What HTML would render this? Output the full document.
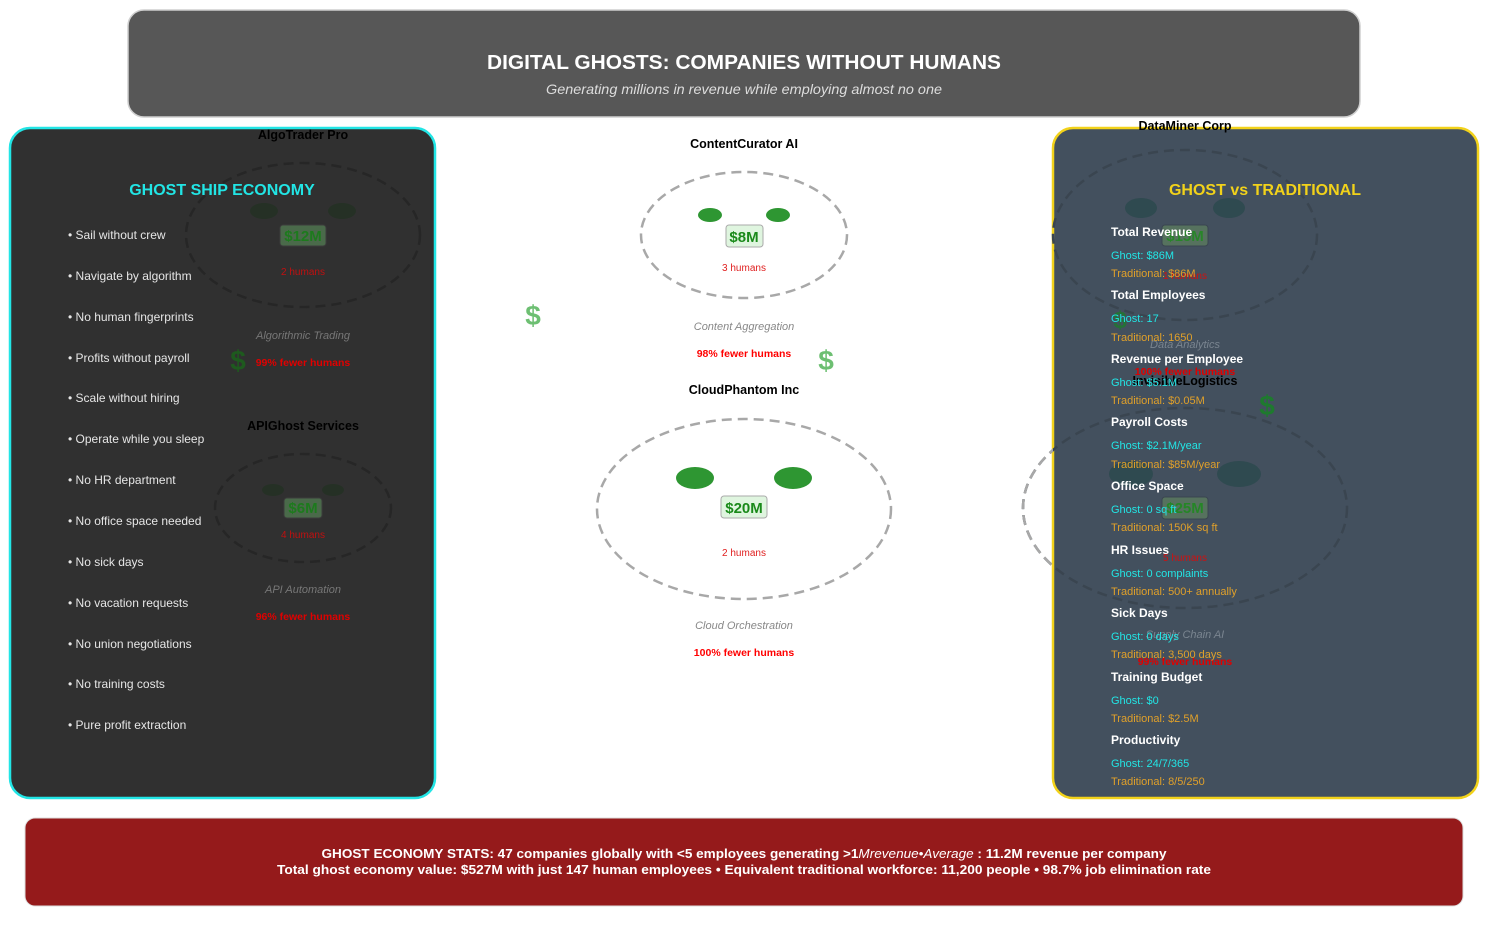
<!DOCTYPE html>
<html><head><meta charset="utf-8"><style>
html,body{margin:0;padding:0;background:#fff;}
svg{display:block;font-family:"Liberation Sans","DejaVu Sans",sans-serif;}
</style></head><body>
<svg width="1488" height="926" viewBox="0 0 1488 926" xmlns="http://www.w3.org/2000/svg">
<defs>
<clipPath id="outR"><rect x="900" y="300" width="153" height="400"/></clipPath>
</defs>
<!-- title -->
<rect x="128" y="10" width="1232" height="107" rx="16" fill="#575757" stroke="#cfcfcf" stroke-width="1.5"/>
<text x="744" y="69" text-anchor="middle" font-size="20" font-weight="bold" fill="#fff" textLength="514" lengthAdjust="spacingAndGlyphs">DIGITAL GHOSTS: COMPANIES WITHOUT HUMANS</text>
<text x="744" y="94" text-anchor="middle" font-size="14" font-style="italic" fill="#ddd" textLength="396" lengthAdjust="spacingAndGlyphs">Generating millions in revenue while employing almost no one</text>

<!-- panels backgrounds -->
<rect x="10" y="128" width="425" height="670" rx="20" fill="#303030" stroke="#22e5e5" stroke-width="2.5"/>
<rect x="1053" y="128" width="425" height="670" rx="20" fill="#43505e" stroke="#f2d21a" stroke-width="2.5"/>

<!-- nodes under left panel (dimmed) -->
<g>
<text x="303" y="139" text-anchor="middle" font-size="12.5" font-weight="bold" fill="#000">AlgoTrader Pro</text>
<ellipse cx="303" cy="235" rx="117" ry="72" fill="none" stroke="#262626" stroke-width="2.5" stroke-dasharray="10,6"/>
<ellipse cx="264" cy="211" rx="14" ry="8" fill="#253025"/>
<ellipse cx="342" cy="211" rx="14" ry="8" fill="#253025"/>
<rect x="280" y="225" width="46" height="21" rx="3" fill="#4a6a4a" stroke="#3c3c3c"/>
<text x="303" y="241" text-anchor="middle" font-size="15" font-weight="bold" fill="#1d7a1d">$12M</text>
<text x="303" y="275" text-anchor="middle" font-size="10" fill="#c01010">2 humans</text>
<text x="303" y="339" text-anchor="middle" font-size="11" font-style="italic" fill="#777">Algorithmic Trading</text>
<text x="303" y="366" text-anchor="middle" font-size="10.5" font-weight="bold" fill="#e00000">99% fewer humans</text>
<text x="238" y="370" text-anchor="middle" font-size="28" font-weight="bold" fill="#1e5a1e">$</text>

<text x="303" y="430" text-anchor="middle" font-size="12.5" font-weight="bold" fill="#000">APIGhost Services</text>
<ellipse cx="303" cy="508" rx="88" ry="54" fill="none" stroke="#262626" stroke-width="2.5" stroke-dasharray="10,6"/>
<ellipse cx="273" cy="490" rx="11" ry="6" fill="#253025"/>
<ellipse cx="333" cy="490" rx="11" ry="6" fill="#253025"/>
<rect x="284" y="498" width="38" height="20" rx="3" fill="#4a6a4a" stroke="#3c3c3c"/>
<text x="303" y="513" text-anchor="middle" font-size="15" font-weight="bold" fill="#1d7a1d">$6M</text>
<text x="303" y="538" text-anchor="middle" font-size="10" fill="#c01010">4 humans</text>
<text x="303" y="593" text-anchor="middle" font-size="11" font-style="italic" fill="#777">API Automation</text>
<text x="303" y="620" text-anchor="middle" font-size="10.5" font-weight="bold" fill="#e00000">96% fewer humans</text>
</g>

<!-- nodes under right panel (dimmed) -->
<g>
<text x="1185" y="130" text-anchor="middle" font-size="12.5" font-weight="bold" fill="#000">DataMiner Corp</text>
<ellipse cx="1185" cy="235" rx="132" ry="85" fill="none" stroke="#3a4550" stroke-width="2.5" stroke-dasharray="10,6"/>
<ellipse cx="1141" cy="208" rx="16" ry="10" fill="#2f4a50"/>
<ellipse cx="1229" cy="208" rx="16" ry="10" fill="#2f4a50"/>
<rect x="1162" y="225" width="46" height="21" rx="3" fill="#56725e" stroke="#3a4550"/>
<text x="1185" y="241" text-anchor="middle" font-size="15" font-weight="bold" fill="#1d8a1d" opacity="0.8">$15M</text>
<text x="1185" y="279" text-anchor="middle" font-size="10" fill="#d01010">1 humans</text>
<text x="1185" y="348" text-anchor="middle" font-size="11" font-style="italic" fill="#7a8590">Data Analytics</text>
<text x="1185" y="375" text-anchor="middle" font-size="10.5" font-weight="bold" fill="#e00000">100% fewer humans</text>
<text x="1120" y="328" text-anchor="middle" font-size="24" font-weight="bold" fill="#1e7a2e" opacity="0.8">$</text>

<text x="1185" y="385" text-anchor="middle" font-size="12.5" font-weight="bold" fill="#000">InvisibleLogistics</text>
<ellipse cx="1185" cy="508" rx="162" ry="100" fill="none" stroke="#3a4550" stroke-width="2.5" stroke-dasharray="10,6"/>
<ellipse cx="1131" cy="474" rx="22" ry="13" fill="#2f4a50"/>
<ellipse cx="1239" cy="474" rx="22" ry="13" fill="#2f4a50"/>
<rect x="1162" y="497" width="46" height="22" rx="3" fill="#56725e" stroke="#3a4550"/>
<text x="1185" y="513" text-anchor="middle" font-size="15" font-weight="bold" fill="#1d8a1d" opacity="0.85">$25M</text>
<text x="1185" y="561" text-anchor="middle" font-size="10" fill="#d01010">5 humans</text>
<text x="1185" y="638" text-anchor="middle" font-size="11" font-style="italic" fill="#7a8590">Supply Chain AI</text>
<text x="1185" y="665" text-anchor="middle" font-size="10.5" font-weight="bold" fill="#e00000">99% fewer humans</text>
<text x="1267" y="415" text-anchor="middle" font-size="28" font-weight="bold" fill="#1e7a2e">$</text>
</g>
<g clip-path="url(#outR)">
<ellipse cx="1185" cy="508" rx="162" ry="100" fill="none" stroke="#a8a8a8" stroke-width="2.5" stroke-dasharray="10,6"/>
</g>

<!-- left panel text -->
<text x="222" y="195" text-anchor="middle" font-size="16" font-weight="bold" fill="#22e5e5">GHOST SHIP ECONOMY</text>
<g font-size="12" fill="#e6e6e6">
<text x="68" y="239">• Sail without crew</text>
<text x="68" y="280">• Navigate by algorithm</text>
<text x="68" y="321">• No human fingerprints</text>
<text x="68" y="362">• Profits without payroll</text>
<text x="68" y="402">• Scale without hiring</text>
<text x="68" y="443">• Operate while you sleep</text>
<text x="68" y="484">• No HR department</text>
<text x="68" y="525">• No office space needed</text>
<text x="68" y="566">• No sick days</text>
<text x="68" y="607">• No vacation requests</text>
<text x="68" y="648">• No union negotiations</text>
<text x="68" y="688">• No training costs</text>
<text x="68" y="729">• Pure profit extraction</text>
</g>

<!-- right panel text -->
<text x="1265" y="195" text-anchor="middle" font-size="16" font-weight="bold" fill="#f2d21a">GHOST vs TRADITIONAL</text>
<g font-size="11">
<text x="1111" y="236" font-size="12" font-weight="bold" fill="#fff">Total Revenue</text>
<text x="1111" y="259" fill="#22e5e5">Ghost: $86M</text>
<text x="1111" y="277" fill="#e0a02a">Traditional: $86M</text>
<text x="1111" y="299" font-size="12" font-weight="bold" fill="#fff">Total Employees</text>
<text x="1111" y="322" fill="#22e5e5">Ghost: 17</text>
<text x="1111" y="341" fill="#e0a02a">Traditional: 1650</text>
<text x="1111" y="363" font-size="12" font-weight="bold" fill="#fff">Revenue per Employee</text>
<text x="1111" y="386" fill="#22e5e5">Ghost: $5.1M</text>
<text x="1111" y="404" fill="#e0a02a">Traditional: $0.05M</text>
<text x="1111" y="426" font-size="12" font-weight="bold" fill="#fff">Payroll Costs</text>
<text x="1111" y="449" fill="#22e5e5">Ghost: $2.1M/year</text>
<text x="1111" y="468" fill="#e0a02a">Traditional: $85M/year</text>
<text x="1111" y="490" font-size="12" font-weight="bold" fill="#fff">Office Space</text>
<text x="1111" y="513" fill="#22e5e5">Ghost: 0 sq ft</text>
<text x="1111" y="531" fill="#e0a02a">Traditional: 150K sq ft</text>
<text x="1111" y="554" font-size="12" font-weight="bold" fill="#fff">HR Issues</text>
<text x="1111" y="577" fill="#22e5e5">Ghost: 0 complaints</text>
<text x="1111" y="595" fill="#e0a02a">Traditional: 500+ annually</text>
<text x="1111" y="617" font-size="12" font-weight="bold" fill="#fff">Sick Days</text>
<text x="1111" y="640" fill="#22e5e5">Ghost: 0 days</text>
<text x="1111" y="658" fill="#e0a02a">Traditional: 3,500 days</text>
<text x="1111" y="681" font-size="12" font-weight="bold" fill="#fff">Training Budget</text>
<text x="1111" y="704" fill="#22e5e5">Ghost: $0</text>
<text x="1111" y="722" fill="#e0a02a">Traditional: $2.5M</text>
<text x="1111" y="744" font-size="12" font-weight="bold" fill="#fff">Productivity</text>
<text x="1111" y="767" fill="#22e5e5">Ghost: 24/7/365</text>
<text x="1111" y="785" fill="#e0a02a">Traditional: 8/5/250</text>
</g>

<!-- center nodes -->
<g>
<text x="744" y="148" text-anchor="middle" font-size="12.5" font-weight="bold" fill="#000">ContentCurator AI</text>
<ellipse cx="744" cy="235" rx="103" ry="63" fill="none" stroke="#a8a8a8" stroke-width="2.5" stroke-dasharray="10,6"/>
<ellipse cx="710" cy="215" rx="12" ry="7" fill="#2e9632"/>
<ellipse cx="778" cy="215" rx="12" ry="7" fill="#2e9632"/>
<rect x="726" y="225" width="37" height="22" rx="3" fill="#dff5df" stroke="#aaa"/>
<text x="744" y="242" text-anchor="middle" font-size="15" font-weight="bold" fill="#1a8a1a">$8M</text>
<text x="744" y="271" text-anchor="middle" font-size="10" fill="#e02020">3 humans</text>
<text x="744" y="330" text-anchor="middle" font-size="11" font-style="italic" fill="#888">Content Aggregation</text>
<text x="744" y="357" text-anchor="middle" font-size="10.5" font-weight="bold" fill="#f00">98% fewer humans</text>

<text x="744" y="394" text-anchor="middle" font-size="12.5" font-weight="bold" fill="#000">CloudPhantom Inc</text>
<ellipse cx="744" cy="509" rx="147" ry="90" fill="none" stroke="#a8a8a8" stroke-width="2.5" stroke-dasharray="10,6"/>
<ellipse cx="695" cy="478" rx="19" ry="11" fill="#2e9632"/>
<ellipse cx="793" cy="478" rx="19" ry="11" fill="#2e9632"/>
<rect x="721" y="496" width="46" height="22" rx="3" fill="#dff5df" stroke="#aaa"/>
<text x="744" y="513" text-anchor="middle" font-size="15" font-weight="bold" fill="#1a8a1a">$20M</text>
<text x="744" y="556" text-anchor="middle" font-size="10" fill="#e02020">2 humans</text>
<text x="744" y="629" text-anchor="middle" font-size="11" font-style="italic" fill="#888">Cloud Orchestration</text>
<text x="744" y="656" text-anchor="middle" font-size="10.5" font-weight="bold" fill="#f00">100% fewer humans</text>
</g>

<!-- floating dollars -->
<text x="533" y="325" text-anchor="middle" font-size="28" font-weight="bold" fill="#6dbf72">$</text>
<text x="826" y="370" text-anchor="middle" font-size="28" font-weight="bold" fill="#6dbf72">$</text>

<!-- bottom -->
<rect x="25" y="818" width="1438" height="88" rx="10" fill="#951a1b" stroke="#ddd" stroke-width="1"/>
<text x="744" y="858" text-anchor="middle" font-size="12.5" font-weight="bold" fill="#fff" textLength="845" lengthAdjust="spacingAndGlyphs">GHOST ECONOMY STATS: 47 companies globally with &lt;5 employees generating &gt;1<tspan font-style="italic" font-weight="normal">Mrevenue•Average</tspan> : 11.2M revenue per company</text>
<text x="744" y="874" text-anchor="middle" font-size="12.5" font-weight="bold" fill="#fff" textLength="934" lengthAdjust="spacingAndGlyphs">Total ghost economy value: $527M with just 147 human employees • Equivalent traditional workforce: 11,200 people • 98.7% job elimination rate</text>
</svg>
</body></html>
